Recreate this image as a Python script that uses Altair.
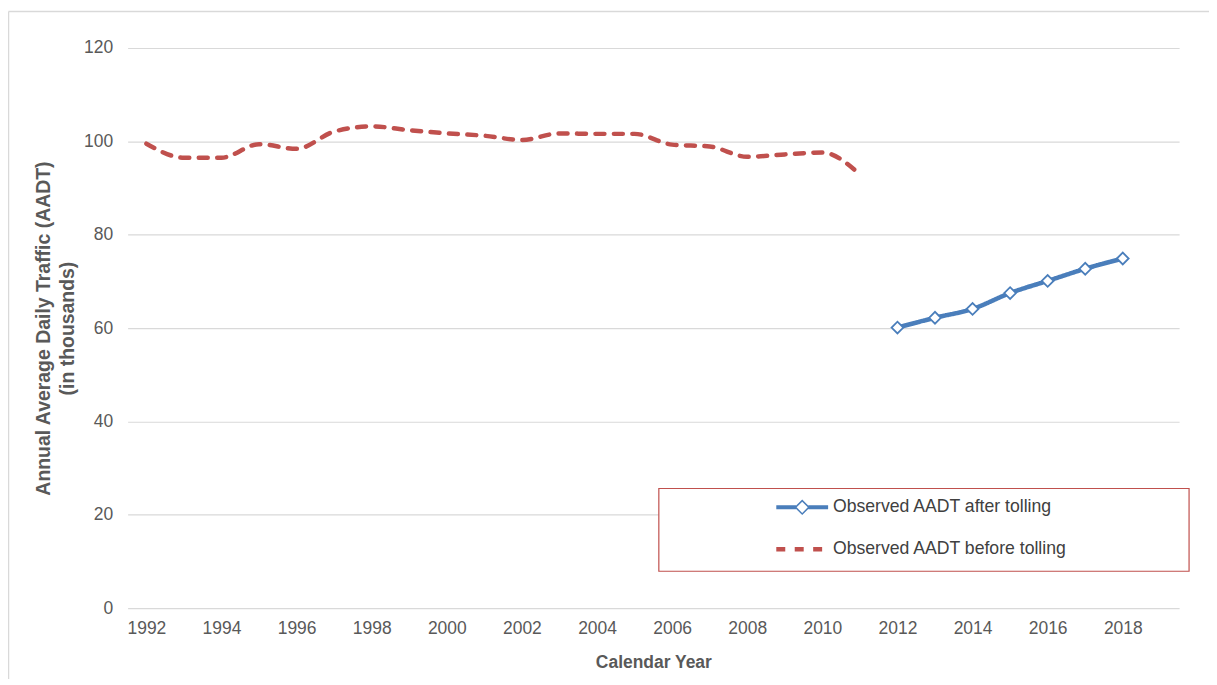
import altair as alt
import pandas as pd

years = [str(y) for y in range(1992, 2020)]
tick_years = [str(y) for y in range(1992, 2019, 2)]
y_ticks = [0, 20, 40, 60, 80, 100, 120]

series_names = ["Observed AADT after tolling", "Observed AADT before tolling"]
series_colors = ["#4a7ebb", "#c0504d"]

before_years = [str(y) for y in range(1992, 2012)]
before_vals = [99.5, 96.5, 96.5, 99.4, 98.4, 102.1, 103.2, 102.4, 101.7, 101.2,
               100.3, 101.7, 101.6, 101.6, 99.3, 98.9, 96.7, 97.2, 97.6, 92.9]

after_years = [str(y) for y in range(2012, 2019)]
after_vals = [60.1, 62.2, 64.1, 67.5, 70.1, 72.7, 74.9]

df = pd.concat([
    pd.DataFrame({"year": after_years, "value": after_vals, "series": series_names[0]}),
    pd.DataFrame({"year": before_years, "value": before_vals, "series": series_names[1]}),
], ignore_index=True)
df_after = df[df["series"] == series_names[0]]

FONT = "Liberation Sans"
BLUE, RED = series_colors

x_enc = alt.X(
    "year:O",
    scale=alt.Scale(type="point", domain=years, padding=0.5),
    axis=alt.Axis(values=tick_years, labelAngle=0, ticks=False, domain=False, grid=False,
                  labelPadding=11.5, titlePadding=17, titleFontSize=17.5),
    title="Calendar Year",
)
y_enc = alt.Y(
    "value:Q",
    scale=alt.Scale(domain=[0, 120], nice=False, zero=True),
    axis=alt.Axis(values=y_ticks, ticks=False, domain=False, grid=True, gridColor="#d9d9d9",
                  gridWidth=1.2, labelPadding=15, titlePadding=6, titleLineHeight=24,
                  titleFontSize=19.5),
    title=["Annual Average Daily Traffic (AADT)", "(in thousands)"],
)

blue_path = ("M-2.6,-0.2L-0.62,-0.2L-0.62,0.2L-2.6,0.2Z"
             "M0.62,-0.2L2.6,-0.2L2.6,0.2L0.62,0.2Z"
             "M0,-0.78L0.78,0L0,0.78L-0.78,0Z"
             "M0,-0.56L-0.56,0L0,0.56L0.56,0Z")
red_path = "M-2.6,0L2.6,0"
is_after = f"datum.value === '{series_names[0]}'"

legend = alt.Legend(
    orient="none", legendX=668, legendY=452, direction="vertical", title=None,
    padding=0, symbolSize=400, symbolDash=[9, 9.5], labelOffset=22, rowPadding=23,
    labelFont=FONT, labelFontSize=17.7, labelColor="#404040", labelLimit=0,
    symbolType=alt.ExprRef(f"{is_after} ? '{blue_path}' : '{red_path}'"),
    symbolFillColor=alt.ExprRef(f"{is_after} ? '{BLUE}' : 'transparent'"),
    symbolStrokeWidth=alt.ExprRef(f"{is_after} ? 0 : 4.5"),
)

lines = alt.Chart(df).mark_line(interpolate="monotone", strokeWidth=4.5, strokeCap="round").encode(
    x=x_enc, y=y_enc,
    color=alt.Color("series:N", scale=alt.Scale(domain=series_names, range=series_colors), legend=legend),
    strokeDash=alt.StrokeDash("series:N", scale=alt.Scale(domain=series_names, range=[[1, 0], [9, 9.5]]),
                              legend=None),
)

points = alt.Chart(df_after).mark_point(shape="diamond", filled=True, fill="white", stroke=BLUE,
                                        strokeWidth=1.8, size=140, opacity=1).encode(x=x_enc, y=y_enc)

one = pd.DataFrame({"a": [0]})
legend_box = alt.Chart(one).mark_rect(fill="white", stroke=RED, strokeWidth=1.2).encode(
    x=alt.value(533), x2=alt.value(1065), y=alt.value(442), y2=alt.value(525))
border_top = alt.Chart(one).mark_rule(color="#d9d9d9", strokeWidth=1.5).encode(
    x=alt.value(-119.5), x2=alt.value(1200), y=alt.value(-36.5))
border_left = alt.Chart(one).mark_rule(color="#d9d9d9", strokeWidth=1.5).encode(
    x=alt.value(-119.5), y=alt.value(-36.5), y2=alt.value(700))

chart = alt.layer(lines, points, legend_box, border_top, border_left).properties(
    width=1055, height=562,
    autosize=alt.AutoSizeParams(type="none"),
    padding={"left": 120, "top": 39, "right": 30, "bottom": 70},
).configure_view(stroke=None).configure_axis(
    labelFont=FONT, labelFontSize=17.5, labelColor="#595959",
    titleFont=FONT, titleFontWeight="bold", titleColor="#595959",
)

chart.save("out.html", embed_options={"renderer": "svg", "actions": False})
